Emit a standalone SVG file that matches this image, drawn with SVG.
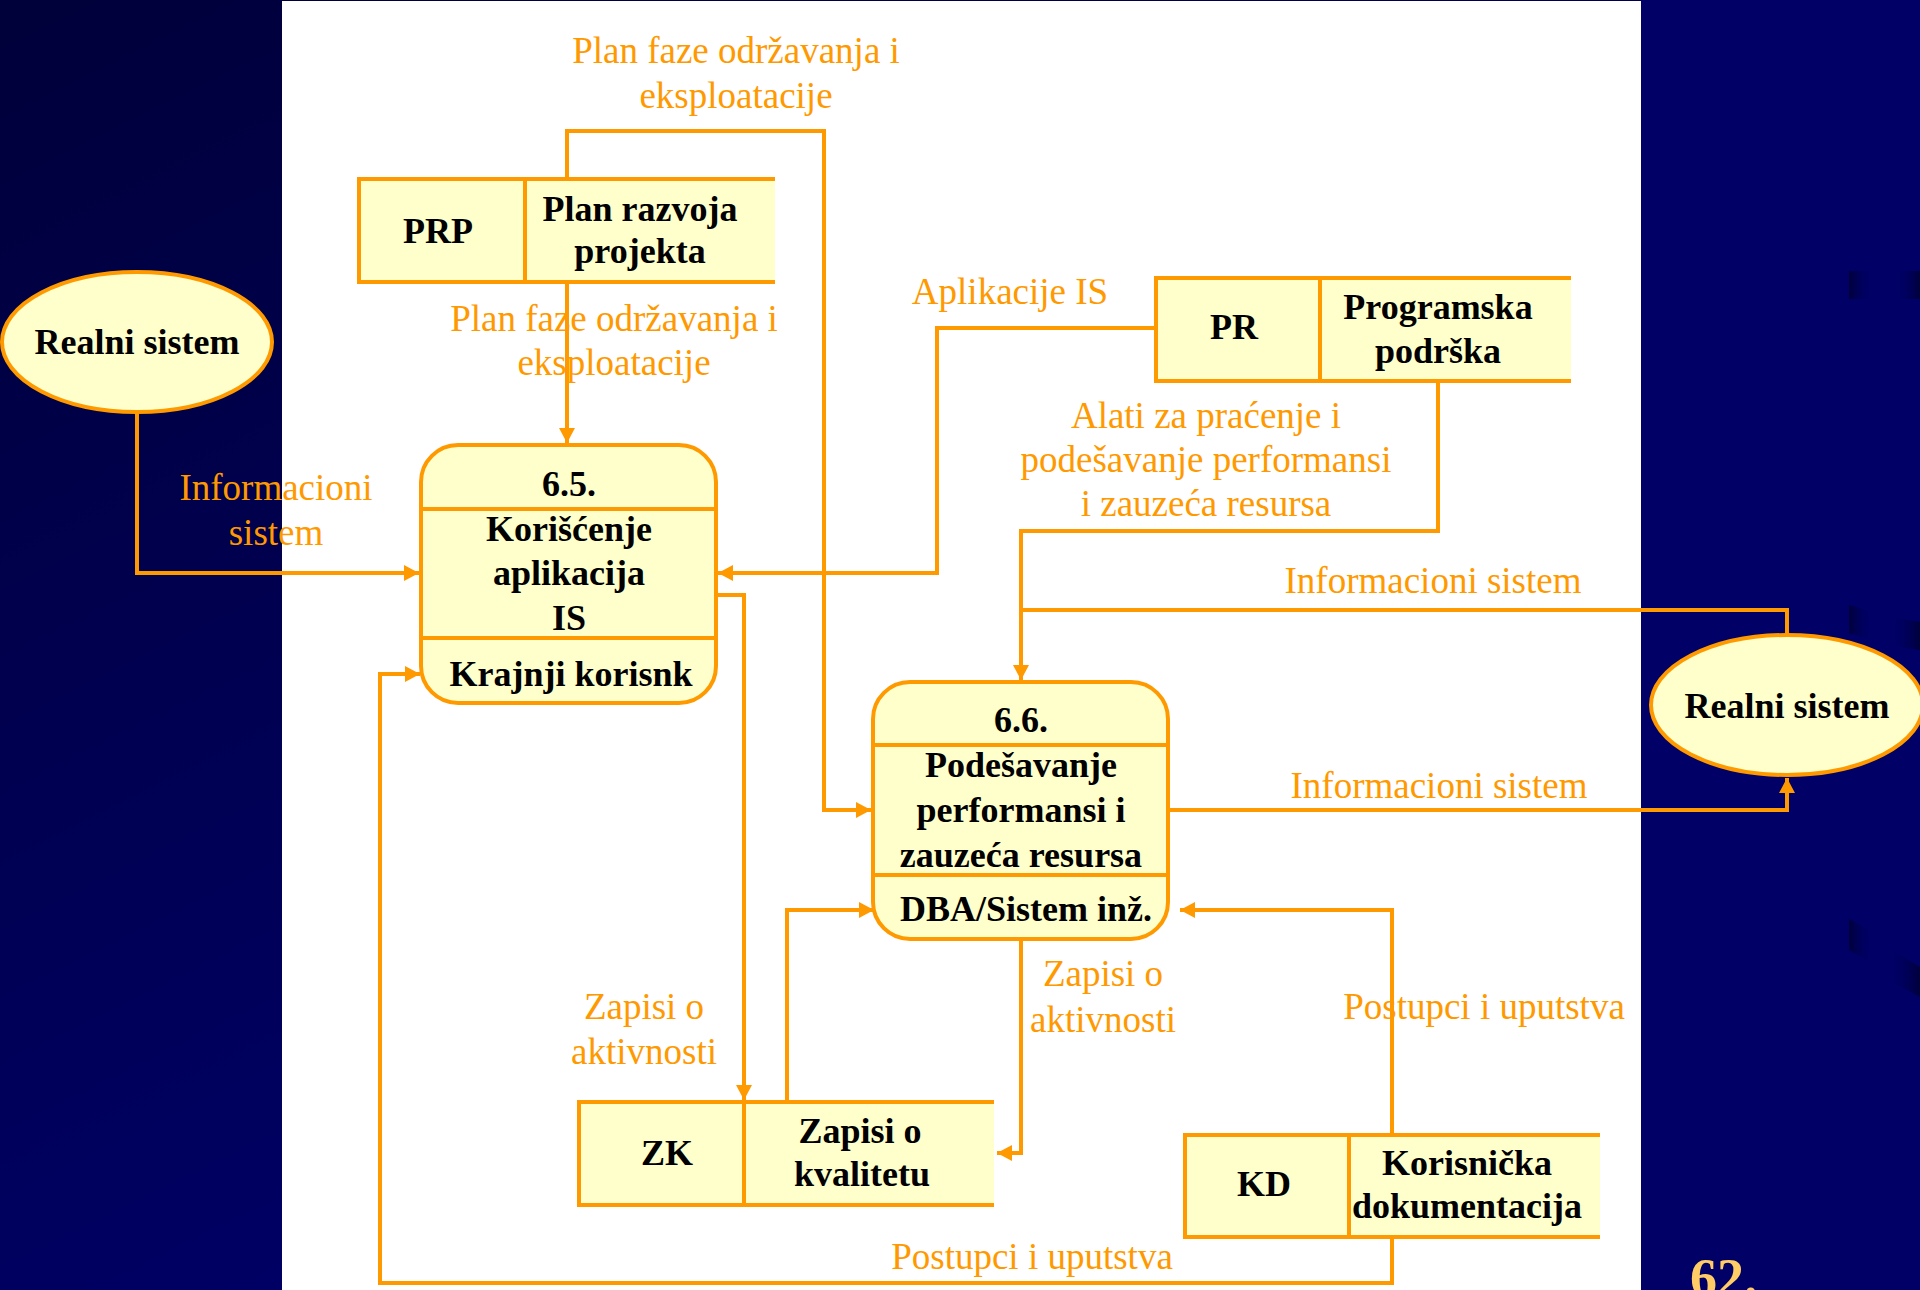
<svg xmlns="http://www.w3.org/2000/svg" width="1920" height="1290" viewBox="0 0 1920 1290">
<defs>
<linearGradient id="bg" x1="0" y1="0" x2="0.55" y2="0.75">
<stop offset="0" stop-color="#00003A"/>
<stop offset="1" stop-color="#000066"/>
</linearGradient>
<linearGradient id="deco" x1="0" y1="0" x2="1" y2="0">
<stop offset="0" stop-color="#000033" stop-opacity="0.85"/>
<stop offset="1" stop-color="#000066" stop-opacity="0"/>
</linearGradient>
<linearGradient id="deco2" x1="0" y1="0" x2="1" y2="0">
<stop offset="0" stop-color="#000066" stop-opacity="0"/>
<stop offset="1" stop-color="#000033" stop-opacity="0.85"/>
</linearGradient>
<marker id="arr" markerWidth="16" markerHeight="18" refX="15" refY="9" orient="auto" markerUnits="userSpaceOnUse">
<path d="M0,1 L15,9 L0,17 z" fill="#FF9900"/>
</marker>
<style>
.shape{fill:#FFFFCC;stroke:#FF9900;stroke-width:4}
.ln{fill:none;stroke:#FF9900;stroke-width:4}
.fill{fill:#FFFFCC;stroke:none}
.t{font-family:"Liberation Serif","Times New Roman",serif;font-weight:bold;font-size:36px;fill:#000000;text-anchor:middle}
.lbl{font-family:"Liberation Serif","Times New Roman",serif;font-size:37px;fill:#FF9900;text-anchor:middle}
.conn{fill:none;stroke:#FF9900;stroke-width:4;marker-end:url(#arr)}
.plain{fill:none;stroke:#FF9900;stroke-width:4}
</style>
</defs>
<rect x="0" y="0" width="1920" height="1290" fill="url(#bg)"/>
<rect x="1641" y="0" width="279" height="1290" fill="#000066"/>
<g id="decorations">
<rect x="1849" y="271" width="24" height="28" fill="url(#deco)"/>
<rect x="1895" y="271" width="25" height="28" fill="url(#deco2)"/>
<polygon points="1849,605 1873,612 1873,640 1849,633" fill="url(#deco)"/>
<polygon points="1890,617 1920,622 1920,650 1890,645" fill="url(#deco2)"/>
<polygon points="1849,919 1873,932 1873,963 1849,950" fill="url(#deco)"/>
<polygon points="1888,948 1920,967 1920,997 1888,980" fill="url(#deco2)"/>
</g>
<rect x="282" y="1" width="1359" height="1289" fill="#FFFFFF"/>
<text x="1690" y="1296" font-family="Liberation Serif, serif" font-weight="bold" font-size="54" fill="#FFCC66">62.</text>

<g id="connectors">
<path class="conn" d="M137,413 V573 H419"/>
<path class="conn" d="M567,179 V131 H824 V810 H871"/>
<path class="conn" d="M567,282 V443"/>
<path class="conn" d="M1156,328 H937 V573 H718"/>
<path class="conn" d="M1438,381 V531 H1021 V680"/>
<path class="plain" d="M1787,634 V610 H1021"/>
<path class="conn" d="M1170,810 H1787 V778"/>
<path class="conn" d="M716,595 H744 V1100"/>
<path class="conn" d="M787,1102 V910 H874"/>
<path class="conn" d="M1021,940 V1153 H997"/>
<path class="conn" d="M1392,1135 V910 H1180"/>
<path class="conn" d="M1392,1237 V1283 H380 V674 H420"/>
</g>

<g id="connector-labels">
<text class="lbl" x="736" y="63">Plan faze održavanja i</text>
<text class="lbl" x="736" y="108">eksploatacije</text>
<text class="lbl" x="614" y="331">Plan faze održavanja i</text>
<text class="lbl" x="614" y="375">eksploatacije</text>
<text class="lbl" x="276" y="500">Informacioni</text>
<text class="lbl" x="276" y="545">sistem</text>
<text class="lbl" x="1010" y="304">Aplikacije IS</text>
<text class="lbl" x="1206" y="428">Alati za praćenje i</text>
<text class="lbl" x="1206" y="472">podešavanje performansi</text>
<text class="lbl" x="1206" y="516">i zauzeća resursa</text>
<text class="lbl" x="1433" y="593">Informacioni sistem</text>
<text class="lbl" x="1439" y="798">Informacioni sistem</text>
<text class="lbl" x="644" y="1019">Zapisi o</text>
<text class="lbl" x="644" y="1064">aktivnosti</text>
<text class="lbl" x="1103" y="986">Zapisi o</text>
<text class="lbl" x="1103" y="1032">aktivnosti</text>
<text class="lbl" x="1484" y="1019">Postupci i uputstva</text>
<text class="lbl" x="1032" y="1269">Postupci i uputstva</text>
</g>

<g id="realni-sistem-left">
<ellipse class="shape" cx="137" cy="342" rx="135" ry="70"/>
<text class="t" x="137" y="354">Realni sistem</text>
</g>

<g id="realni-sistem-right">
<ellipse class="shape" cx="1787" cy="705" rx="136" ry="70"/>
<text class="t" x="1787" y="718">Realni sistem</text>
</g>

<g id="store-prp">
<rect class="fill" x="359" y="179" width="416" height="103"/>
<path class="ln" d="M775,179 H359 V282 H775 M525,179 V282"/>
<text class="t" x="438" y="243">PRP</text>
<text class="t" x="640" y="221">Plan razvoja</text>
<text class="t" x="640" y="263">projekta</text>
</g>

<g id="store-pr">
<rect class="fill" x="1156" y="278" width="415" height="103"/>
<path class="ln" d="M1571,278 H1156 V381 H1571 M1320,278 V381"/>
<text class="t" x="1234" y="339">PR</text>
<text class="t" x="1438" y="319">Programska</text>
<text class="t" x="1438" y="363">podrška</text>
</g>

<g id="store-zk">
<rect class="fill" x="579" y="1102" width="415" height="103"/>
<path class="ln" d="M994,1102 H579 V1205 H994 M744,1102 V1205"/>
<text class="t" x="667" y="1165">ZK</text>
<text class="t" x="860" y="1143">Zapisi o</text>
<text class="t" x="862" y="1186">kvalitetu</text>
</g>

<g id="store-kd">
<rect class="fill" x="1185" y="1135" width="415" height="102"/>
<path class="ln" d="M1600,1135 H1185 V1237 H1600 M1349,1135 V1237"/>
<text class="t" x="1264" y="1196">KD</text>
<text class="t" x="1467" y="1175">Korisnička</text>
<text class="t" x="1467" y="1218">dokumentacija</text>
</g>

<g id="process-6-5">
<rect class="shape" x="421" y="445" width="295" height="258" rx="37" ry="37"/>
<path class="ln" d="M421,509 H716 M421,638 H716"/>
<text class="t" x="569" y="496">6.5.</text>
<text class="t" x="569" y="541">Korišćenje</text>
<text class="t" x="569" y="585">aplikacija</text>
<text class="t" x="569" y="630">IS</text>
<text class="t" x="571" y="686">Krajnji korisnk</text>
</g>

<g id="process-6-6">
<rect class="shape" x="873" y="682" width="295" height="257" rx="37" ry="37"/>
<path class="ln" d="M873,745 H1168 M873,875 H1168"/>
<text class="t" x="1021" y="732">6.6.</text>
<text class="t" x="1021" y="777">Podešavanje</text>
<text class="t" x="1021" y="822">performansi i</text>
<text class="t" x="1021" y="867">zauzeća resursa</text>
<text class="t" x="1026" y="921">DBA/Sistem inž.</text>
</g>
</svg>
